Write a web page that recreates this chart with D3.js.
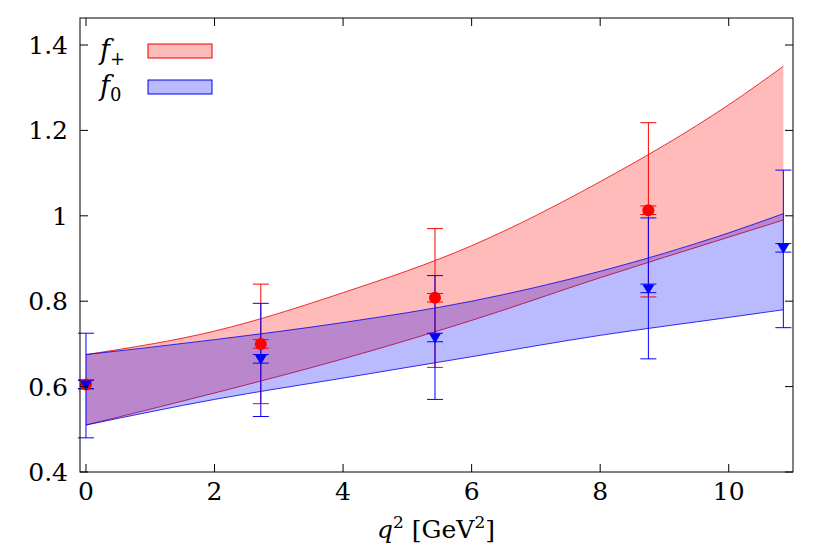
<!DOCTYPE html><html><head><meta charset="utf-8">
<script src="https://cdn.jsdelivr.net/npm/d3@7"></script>
<style>body{margin:0;background:#fff}text{font-family:"DejaVu Serif","Liberation Serif",serif}</style></head>
<body><svg id="c" width="830" height="554"></svg>
<script>
const bandQ=[0,2,4,6,8,10,10.85];
const fpUpper=[0.675,0.73,0.82,0.93,1.08,1.26,1.35];
const fpLower=[0.51,0.585,0.665,0.755,0.855,0.95,0.99];
const f0Upper=[0.675,0.71,0.75,0.80,0.87,0.96,1.005];
const f0Lower=[0.51,0.57,0.62,0.67,0.72,0.762,0.78];
const fpQ=[0,2.72,5.43,8.75];
const fpVal=[0.605,0.70,0.808,1.013];
const fpLo=[0.595,0.56,0.645,0.81];
const fpHi=[0.615,0.84,0.97,1.218];
const f0Q=[0,2.72,5.43,8.75,10.85];
const f0Val=[0.605,0.665,0.715,0.83,0.925];
const f0Lo=[0.48,0.53,0.57,0.665,0.738];
const f0Hi=[0.725,0.795,0.86,0.995,1.107];
const xTicks=[0,2,4,6,8,10], yTicks=[0.4,0.6,0.8,1,1.2,1.4];
const svg=d3.select("#c");
const L=80,R=793,T=18,B=472;
const x=d3.scaleLinear().domain([-0.093,11.0]).range([L,R]);
const y=d3.scaleLinear().domain([0.4,1.4]).range([B,45]);
const g=svg.append("g");
function band(up,lo,fill,stroke){
  const a=d3.area().x((d,i)=>x(bandQ[i])).y0((d,i)=>y(lo[i])).y1((d,i)=>y(up[i])).curve(d3.curveMonotoneX);
  g.append("path").attr("d",a(bandQ)).attr("fill",fill);
  const l=d3.line().x((d,i)=>x(bandQ[i])).y(d=>y(d)).curve(d3.curveMonotoneX);
  g.append("path").attr("d",l(up)).attr("fill","none").attr("stroke",stroke).attr("stroke-width",0.8);
  g.append("path").attr("d",l(lo)).attr("fill","none").attr("stroke",stroke).attr("stroke-width",0.8);
}
band(fpUpper,fpLower,"rgba(255,0,0,0.27)","#e00");
band(f0Upper,f0Lower,"rgba(0,0,255,0.27)","#00e");
function errs(qs,v,lo,hi,col){
  qs.forEach((q,i)=>{const cx=x(q);
    g.append("line").attr("x1",cx).attr("x2",cx).attr("y1",y(lo[i])).attr("y2",y(hi[i])).attr("stroke",col);
    [lo[i],hi[i]].forEach(e=>g.append("line").attr("x1",cx-8).attr("x2",cx+8).attr("y1",y(e)).attr("y2",y(e)).attr("stroke",col));
    [v[i]-0.01,v[i]+0.01].forEach(e=>g.append("line").attr("x1",cx-8).attr("x2",cx+8).attr("y1",y(e)).attr("y2",y(e)).attr("stroke",col));
  });
}
errs(fpQ,fpVal,fpLo,fpHi,"#f00");
errs(f0Q,f0Val,f0Lo,f0Hi,"#00f");
fpQ.forEach((q,i)=>g.append("circle").attr("cx",x(q)).attr("cy",y(fpVal[i])).attr("r",6).attr("fill","#f00"));
f0Q.forEach((q,i)=>g.append("path").attr("transform",`translate(${x(q)},${y(f0Val[i])})`).attr("d","M-6,-4L6,-4L0,6Z").attr("fill","#00f"));
svg.append("rect").attr("x",L).attr("y",T).attr("width",R-L).attr("height",B-T).attr("fill","none").attr("stroke","#000");
xTicks.forEach(t=>{svg.append("line").attr("x1",x(t)).attr("x2",x(t)).attr("y1",B).attr("y2",B-8).attr("stroke","#000");
  svg.append("line").attr("x1",x(t)).attr("x2",x(t)).attr("y1",T).attr("y2",T+8).attr("stroke","#000");
  svg.append("text").attr("x",x(t)).attr("y",B+28).attr("text-anchor","middle").attr("font-size",25).text(t);});
yTicks.forEach(t=>{svg.append("line").attr("x1",L).attr("x2",L+8).attr("y1",y(t)).attr("y2",y(t)).attr("stroke","#000");
  svg.append("line").attr("x1",R).attr("x2",R-8).attr("y1",y(t)).attr("y2",y(t)).attr("stroke","#000");
  svg.append("text").attr("x",L-12).attr("y",y(t)+9).attr("text-anchor","end").attr("font-size",25).text(t);});
const xl=svg.append("text").attr("x",436).attr("y",538).attr("text-anchor","middle").attr("font-size",25);
xl.append("tspan").attr("font-style","italic").text("q");xl.append("tspan").attr("dy",-10).attr("font-size",17).text("2");
xl.append("tspan").attr("dy",10).text(" [GeV");xl.append("tspan").attr("dy",-10).attr("font-size",17).text("2");xl.append("tspan").attr("dy",10).text("]");
[["+","rgba(255,0,0,0.27)","#e00",51],["0","rgba(0,0,255,0.27)","#00e",87]].forEach(([s,f,st,yy])=>{
  const t=svg.append("text").attr("x",100).attr("y",yy+8).attr("font-size",27).attr("font-style","italic");
  t.append("tspan").text("f");t.append("tspan").attr("dy",6).attr("font-size",18).attr("font-style","normal").text(s);
  svg.append("rect").attr("x",148).attr("y",yy-7).attr("width",64).attr("height",14).attr("fill",f).attr("stroke",st);
});
</script></body></html>
